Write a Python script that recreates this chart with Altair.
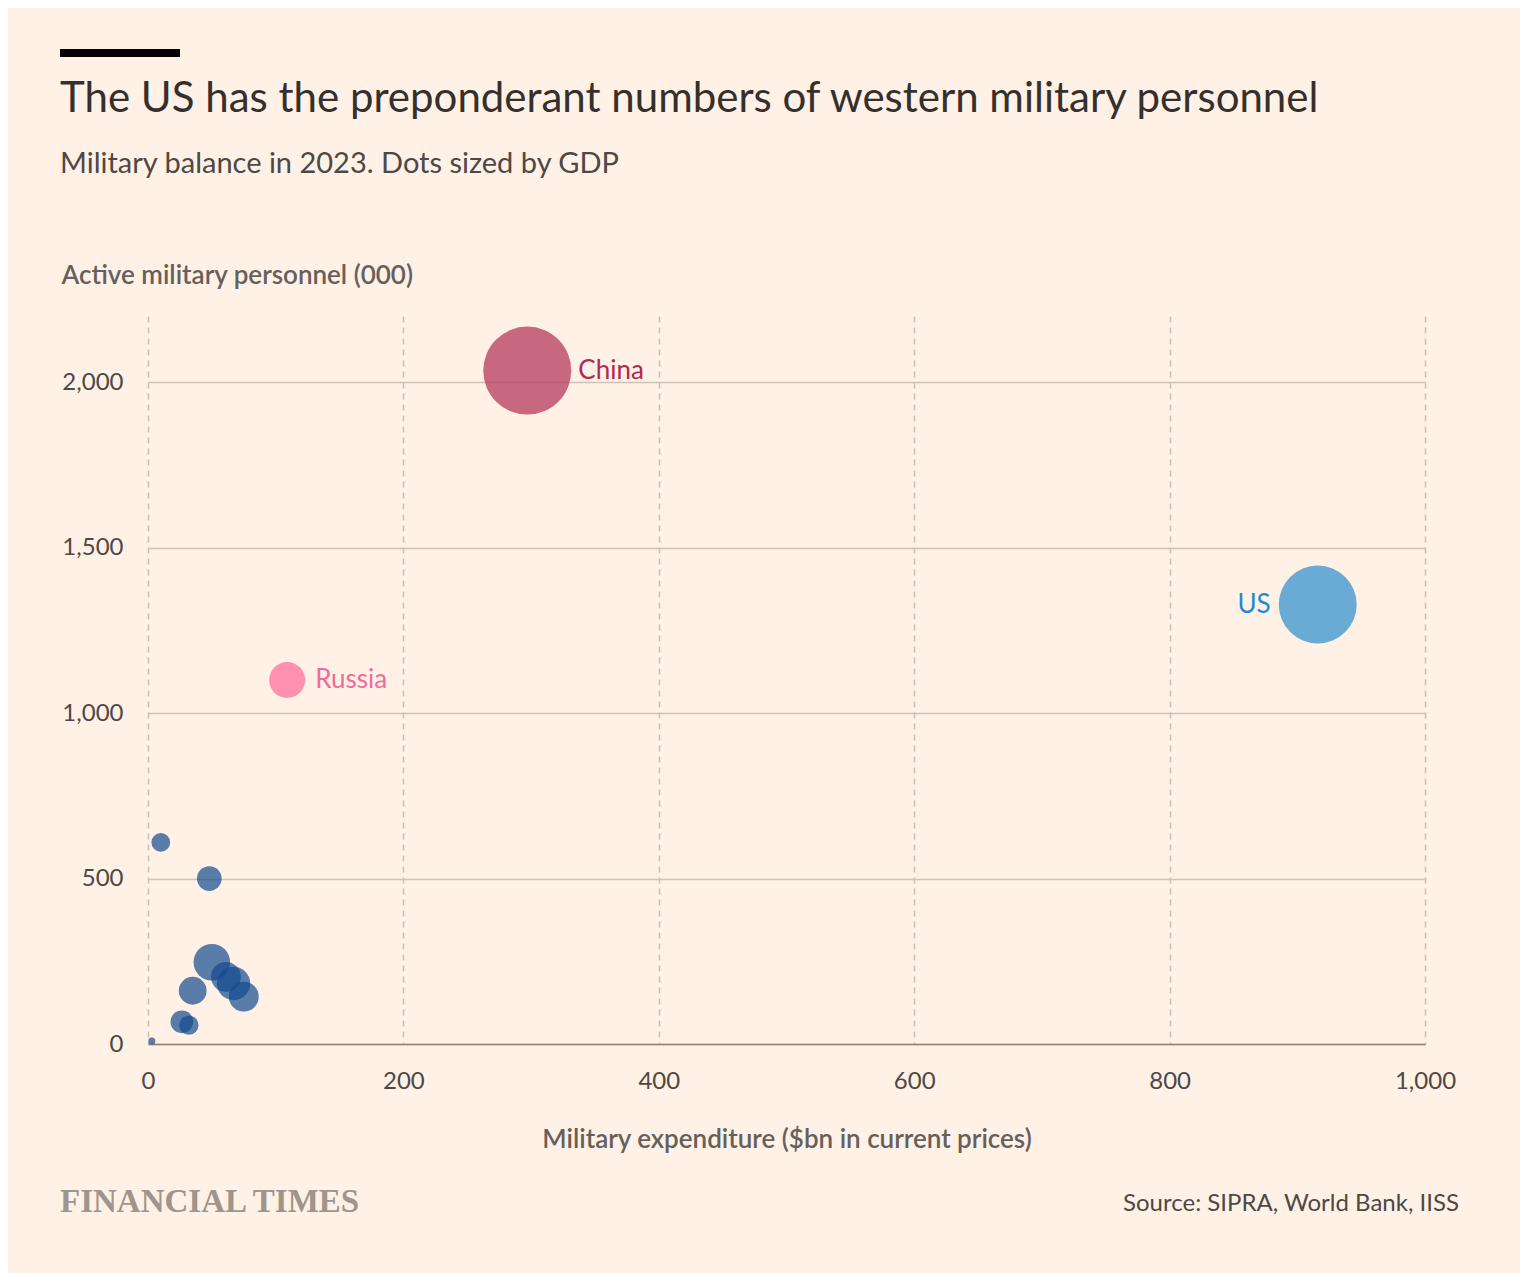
import altair as alt
import pandas as pd

# ---- data ----
countries = ["China", "US", "Russia", "Japan", "Germany", "France", "UK", "Italy",
             "South Korea", "Canada", "Australia", "Iran", "New Zealand"]
expenditure = [297, 916, 109, 50, 67, 61, 75, 35, 48, 26.5, 32, 10, 3]       # $bn
personnel = [2035, 1328, 1100, 247, 183, 203, 143, 161, 500, 67, 57, 609, 9]  # 000
gdp = [33, 25.9, 5.5, 5.7, 4.75, 3.8, 3.8, 3.3, 2.6, 2.2, 1.6, 1.5, 0.21]      # GDP ($trn)
group = ["China", "US", "Russia", "Other", "Other", "Other", "Other", "Other",
         "Other", "Other", "Other", "Other", "Other"]

x_ticks = [0, 200, 400, 600, 800, 1000]
y_ticks = [0, 500, 1000, 1500, 2000]

title = "The US has the preponderant numbers of western military personnel"
subtitle = "Military balance in 2023. Dots sized by GDP"
source = "Source: SIPRA, World Bank, IISS"
brand = "FINANCIAL TIMES"

df = pd.DataFrame({"country": countries, "exp": expenditure, "pers": personnel,
                   "gdp": gdp, "group": group})

FONT = "Lato"
BG = "#fff1e5"
W, H = 1277, 728

x_enc = alt.X("exp:Q", scale=alt.Scale(domain=[0, 1000], nice=False),
              axis=alt.Axis(values=x_ticks, format=",.0f", title="Military expenditure ($bn in current prices)",
                            grid=True, gridDash=[6, 5], gridColor="#c9c0b6", gridWidth=1.5,
                            domain=True, domainColor="#8a827b", domainWidth=1.5,
                            ticks=False, labelPadding=25, labelFontSize=24, labelColor="#4d4845",
                            labelFont=FONT, titleFont=FONT, titleFontSize=26, titleFontWeight=600,
                            titleColor="#66605c", titleY=103, titleBaseline="alphabetic",
                            labelFlush=False))
y_enc = alt.Y("pers:Q", scale=alt.Scale(domain=[0, 2200], nice=False),
              axis=alt.Axis(values=y_ticks, format=",.0f", title="Active military personnel (000)",
                            grid=True, gridColor="#cbc2b8", gridWidth=1.5,
                            domain=False, ticks=False, labelPadding=25, labelFontSize=24,
                            labelColor="#4d4845", labelFont=FONT,
                            titleFont=FONT, titleFontSize=26, titleFontWeight=600, titleColor="#66605c",
                            titleAngle=0, titleAlign="left", titleBaseline="alphabetic",
                            titleX=-87, titleY=-33))

base = alt.Chart(df)

# Vega circle size = (diameter)^2 ; China radius ~44px
points = base.mark_circle(opacity=0.7, strokeWidth=0).encode(
    x=x_enc, y=y_enc,
    size=alt.Size("gdp:Q", scale=alt.Scale(domain=[0, 33], range=[0, 7744], zero=True), legend=None),
    color=alt.Color("group:N", scale=alt.Scale(domain=["China", "US", "Russia", "Other"],
                                               range=["#b02d53", "#2a8dcd", "#ff6699", "#134a8e"]),
                    legend=None),
    order=alt.Order("gdp:Q", sort="descending"),
)

def label(name, dx, align, color):
    return base.transform_filter(alt.datum.country == name).mark_text(
        dx=dx, align=align, baseline="middle", font=FONT, fontSize=26, color=color
    ).encode(x="exp:Q", y="pers:Q", text="country:N")

lab_china = label("China", 51, "left", "#b0294f")
lab_russia = label("Russia", 28, "left", "#f26a9b")
lab_us = label("US", -47, "right", "#1f8ad0")

def free_text(txt, x, y, size, color, align="left", font=FONT, weight="normal"):
    return alt.Chart(pd.DataFrame({"t": [txt]})).mark_text(
        align=align, baseline="alphabetic", font=font, fontSize=size, color=color, fontWeight=weight
    ).encode(x=alt.value(x), y=alt.value(y), text="t:N")

t_title = free_text(title, -88, -204, 42, "#33302e")
t_sub = free_text(subtitle, -88, -143, 29, "#4d4845")
t_brand = free_text(brand, -88, 896, 33, "#9e958c", font="Liberation Serif", weight="bold")
t_source = free_text(source, 1311, 895, 24, "#4d4845", align="right")

bar = alt.Chart(pd.DataFrame({"a": [0]})).mark_rule(color="#000000", strokeWidth=8, strokeCap="butt").encode(
    x=alt.value(-88), x2=alt.value(32), y=alt.value(-263))

chart = alt.layer(points, lab_china, lab_russia, lab_us, t_title, t_sub, t_brand, t_source, bar).properties(
    width=W, height=H,
    autosize=alt.AutoSizeParams(type="none"),
    padding={"left": 140, "top": 308, "right": 95, "bottom": 229},
    background=BG,
).configure_view(stroke=None)

chart.save("out.html", embed_options={"renderer": "svg", "actions": False})
